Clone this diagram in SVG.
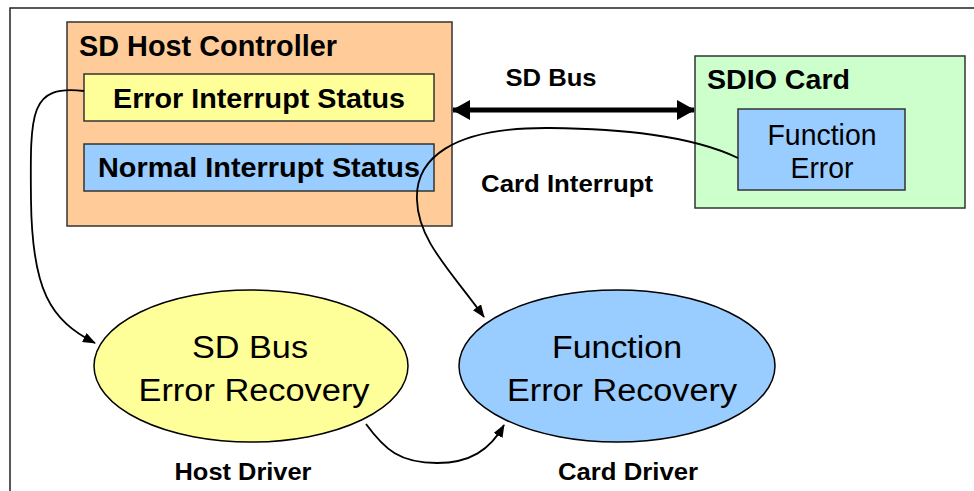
<svg xmlns="http://www.w3.org/2000/svg" width="974" height="491" viewBox="0 0 974 491">
<defs>
<style>
.box{stroke:#333;stroke-width:1.5}
.t{font-family:"Liberation Sans",Arial,sans-serif;fill:#000}
.b{font-weight:bold}
.m{text-anchor:middle}
.c{fill:none;stroke:#000;stroke-width:1.8}
</style>
<marker id="ah" viewBox="0 0 13 10" refX="12" refY="5" markerWidth="13" markerHeight="10" markerUnits="userSpaceOnUse" orient="auto">
<path d="M0,0 L13,5 L0,10 Z" fill="#000"/>
</marker>
<marker id="bh" viewBox="0 0 18 20" refX="17" refY="10" markerWidth="18" markerHeight="20" markerUnits="userSpaceOnUse" orient="auto-start-reverse">
<path d="M0,0 L18,10 L0,20 Z" fill="#000"/>
</marker>
</defs>
<rect x="0" y="0" width="974" height="491" fill="#fff"/>
<rect x="10" y="8" width="980" height="500" fill="none" stroke="#222" stroke-width="1.5"/>

<g id="host-controller">
<rect class="box" x="67" y="22" width="385" height="204" fill="#FFCC99"/>
<text class="t b" x="79" y="56" font-size="29" textLength="258" lengthAdjust="spacingAndGlyphs">SD Host Controller</text>
</g>
<g id="error-interrupt-status">
<rect class="box" x="84" y="74" width="350" height="47" fill="#FFFF99"/>
<text class="t b m" x="259" y="108" font-size="28" textLength="292" lengthAdjust="spacingAndGlyphs">Error Interrupt Status</text>
</g>
<g id="normal-interrupt-status">
<rect class="box" x="84" y="144" width="350" height="47" fill="#99CCFF"/>
<text class="t b m" x="259" y="177" font-size="28" textLength="322" lengthAdjust="spacingAndGlyphs">Normal Interrupt Status</text>
</g>
<g id="sdio-card">
<rect class="box" x="695" y="56" width="270" height="152" fill="#CCFFCC"/>
<text class="t b" x="707" y="89" font-size="28" textLength="143" lengthAdjust="spacingAndGlyphs">SDIO Card</text>
</g>
<g id="function-error">
<rect class="box" x="738" y="109" width="167" height="81" fill="#99CCFF"/>
<text class="t m" x="822" y="145" font-size="29" textLength="109" lengthAdjust="spacingAndGlyphs">Function</text>
<text class="t m" x="822" y="178" font-size="29" textLength="63" lengthAdjust="spacingAndGlyphs">Error</text>
</g>
<g id="sd-bus-error-recovery">
<ellipse cx="251" cy="366" rx="157" ry="76" fill="#FFFF99" stroke="#000" stroke-width="1.5"/>
<text class="t m" x="250" y="358" font-size="31" textLength="116" lengthAdjust="spacingAndGlyphs">SD Bus</text>
<text class="t m" x="254" y="401" font-size="31" textLength="231" lengthAdjust="spacingAndGlyphs">Error Recovery</text>
</g>
<g id="function-error-recovery">
<ellipse cx="617" cy="366" rx="158" ry="76" fill="#99CCFF" stroke="#000" stroke-width="1.5"/>
<text class="t m" x="617" y="358" font-size="31" textLength="130" lengthAdjust="spacingAndGlyphs">Function</text>
<text class="t m" x="622" y="401" font-size="31" textLength="230" lengthAdjust="spacingAndGlyphs">Error Recovery</text>
</g>
<g id="labels">
<text class="t b m" x="551" y="86" font-size="24" textLength="91" lengthAdjust="spacingAndGlyphs">SD Bus</text>
<text class="t b m" x="567" y="192" font-size="24" textLength="172" lengthAdjust="spacingAndGlyphs">Card Interrupt</text>
<text class="t b m" x="243" y="480" font-size="24" textLength="137" lengthAdjust="spacingAndGlyphs">Host Driver</text>
<text class="t b m" x="628" y="480" font-size="24" textLength="140" lengthAdjust="spacingAndGlyphs">Card Driver</text>
</g>
<g id="connectors">
<line x1="453" y1="110" x2="694" y2="110" stroke="#000" stroke-width="5" marker-start="url(#bh)" marker-end="url(#bh)"/>
<path class="c" d="M84,91 C30,85 30,110 31,200 C32,290 50,320 95,343" marker-end="url(#ah)"/>
<path class="c" d="M738,158 C690,135 620,129 550,128 C450,127 415,160 417,200 C418,240 450,270 484,317" marker-end="url(#ah)"/>
<path class="c" d="M366,424 C385,450 400,463 437,463 C470,463 490,450 504,425" marker-end="url(#ah)"/>
</g>
</svg>
